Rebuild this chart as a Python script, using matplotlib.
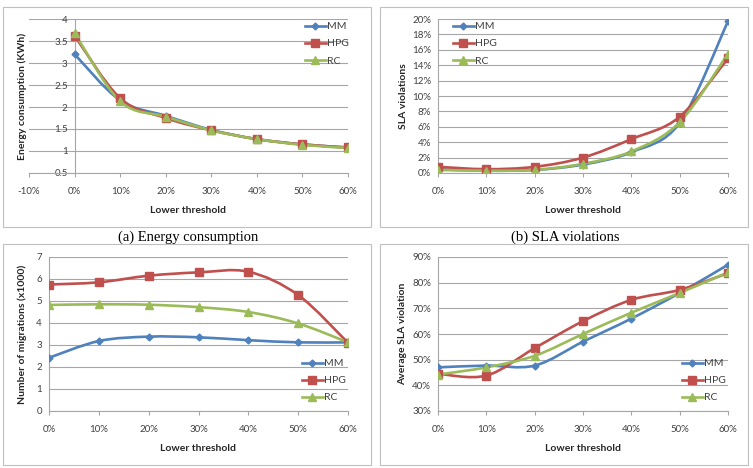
import matplotlib
matplotlib.use("Agg")
import matplotlib.pyplot as plt
from matplotlib.path import Path
from matplotlib.patches import PathPatch, Rectangle
from matplotlib.lines import Line2D

plt.rcParams['font.family'] = ['Lato', 'DejaVu Sans']

thresholds = [0, 10, 20, 30, 40, 50, 60]
series_names = ["MM", "HPG", "RC"]

# (a) energy consumption, KWh
energy_mm = [3.2, 2.15, 1.8, 1.48, 1.27, 1.15, 1.08]
energy_hpg = [3.62, 2.2, 1.75, 1.47, 1.27, 1.15, 1.08]
energy_rc = [3.68, 2.13, 1.78, 1.47, 1.27, 1.14, 1.07]

# (b) SLA violations, %
sla_mm = [0.5, 0.3, 0.4, 1.1, 2.7, 6.5, 19.7]
sla_hpg = [0.8, 0.5, 0.8, 2.0, 4.4, 7.3, 14.9]
sla_rc = [0.4, 0.3, 0.4, 1.2, 2.8, 6.6, 15.5]

# (c) number of migrations, x1000
migr_mm = [2.42, 3.18, 3.38, 3.35, 3.22, 3.12, 3.12]
migr_hpg = [5.75, 5.85, 6.15, 6.3, 6.33, 5.27, 3.1]
migr_rc = [4.82, 4.85, 4.83, 4.72, 4.5, 3.98, 3.12]

# (d) average SLA violation, %
avg_mm = [47, 47.7, 47.7, 57, 66, 76, 87]
avg_hpg = [44.5, 43.8, 54.5, 65, 73.3, 77.2, 83.7]
avg_rc = [44.2, 47, 51.5, 60, 68.3, 76, 84]

colors = {"MM": "#4F81BD", "HPG": "#C0504D", "RC": "#9BBB59"}
markers = {"MM": ("D", 3.5), "HPG": ("s", 6), "RC": ("^", 6)}

W, H = 753, 468
fig = plt.figure(figsize=(W / 100, H / 100), dpi=100)


def px_axes(x0, x1, y0, y1):
    return fig.add_axes([x0 / W, 1 - y1 / H, (x1 - x0) / W, (y1 - y0) / H])


def smooth_path(x, y):
    # Excel-style smoothed line: cubic Bezier through each point
    pts = list(zip(x, y))
    n = len(pts)
    verts = [pts[0]]
    codes = [Path.MOVETO]
    for i in range(n - 1):
        p0 = pts[i - 1] if i > 0 else pts[i]
        p1 = pts[i]
        p2 = pts[i + 1]
        p3 = pts[i + 2] if i + 2 < n else pts[i + 1]
        c1 = (p1[0] + (p2[0] - p0[0]) / 6, p1[1] + (p2[1] - p0[1]) / 6)
        c2 = (p2[0] - (p3[0] - p1[0]) / 6, p2[1] - (p3[1] - p1[1]) / 6)
        verts += [c1, c2, p2]
        codes += [Path.CURVE4] * 3
    return Path(verts, codes)


def draw_panel(ax, data, ylabel, yticks, ylabels, xlim, ylim, leg_xy):
    for name, vals in zip(series_names, data):
        ax.add_patch(PathPatch(smooth_path(thresholds, vals), fill=False,
                               edgecolor=colors[name], lw=1.9, zorder=3))
        m, s = markers[name]
        ax.plot(thresholds, vals, ls="none", marker=m, ms=s,
                color=colors[name], zorder=4)
    ax.set_xlim(*xlim)
    ax.set_ylim(*ylim)
    xt = list(range(xlim[0], xlim[1] + 1, 10))
    ax.set_xticks(xt)
    ax.set_xticklabels([f"{v}%" for v in xt])
    ax.set_yticks(yticks)
    ax.set_yticklabels(ylabels)
    ax.yaxis.grid(True, color="#A6A6A6", lw=0.8)
    ax.set_axisbelow(True)
    for s in ["top", "right"]:
        ax.spines[s].set_visible(False)
    for s in ["left", "bottom"]:
        ax.spines[s].set_color("#A6A6A6")
        ax.spines[s].set_linewidth(0.8)
    ax.tick_params(axis="x", length=3, color="#A6A6A6", labelsize=7,
                   labelcolor="#404040", pad=7)
    ax.tick_params(axis="y", length=0, labelsize=7, labelcolor="#404040", pad=5)
    ax.set_xlabel("Lower threshold", fontsize=7.5, fontweight="bold",
                  color="#262626", labelpad=7)
    ax.set_ylabel(ylabel, fontsize=7.5, fontweight="bold", color="#262626")
    handles = [Line2D([], [], color=colors[n], lw=1.9, marker=markers[n][0],
                      ms=markers[n][1]) for n in series_names]
    ax.legend(handles, series_names, loc="upper left",
              bbox_to_anchor=(leg_xy[0] / W, 1 - leg_xy[1] / H),
              bbox_transform=fig.transFigure, frameon=False, fontsize=7.5,
              handlelength=2.0, handletextpad=0.1, labelspacing=0.75,
              borderpad=0, borderaxespad=0, numpoints=1,
              labelcolor="#404040")


# panel boxes
for x0, x1, y0, y1 in [(3, 371, 7, 227), (380, 748, 7, 227),
                       (3, 371, 244, 465), (380, 748, 244, 465)]:
    fig.patches.append(Rectangle((x0 / W, 1 - y1 / H), (x1 - x0) / W,
                                 (y1 - y0) / H, transform=fig.transFigure,
                                 fill=False, edgecolor="#BFBFBF", lw=0.8))

# (a)
ax_a = px_axes(29, 348, 19, 173)
e_ticks = [0.5, 1, 1.5, 2, 2.5, 3, 3.5, 4]
draw_panel(ax_a, [energy_mm, energy_hpg, energy_rc],
           "Energy consumption (KWh)", e_ticks,
           [f"{v:g}" for v in e_ticks], (-10, 60), (0.5, 4), (305, 22))
ax_a.spines["left"].set_position(("data", 0))
ax_a.yaxis.set_label_coords(-0.006, 0.5)

# (b)
ax_b = px_axes(438, 728, 19, 173)
s_ticks = list(range(0, 21, 2))
draw_panel(ax_b, [sla_mm, sla_hpg, sla_rc], "SLA violations", s_ticks,
           [f"{v}%" for v in s_ticks], (0, 60), (0, 20), (453, 22))
ax_b.yaxis.set_label_coords(-0.103, 0.5)

# (c)
ax_c = px_axes(49, 348, 257, 411)
m_ticks = list(range(0, 8))
draw_panel(ax_c, [migr_mm, migr_hpg, migr_rc],
           "Number of migrations (x1000)", m_ticks,
           [str(v) for v in m_ticks], (0, 60), (0, 7), (302, 359))
ax_c.yaxis.set_label_coords(-0.074, 0.5)

# (d)
ax_d = px_axes(438, 728, 257, 411)
a_ticks = list(range(30, 91, 10))
draw_panel(ax_d, [avg_mm, avg_hpg, avg_rc], "Average SLA violation",
           a_ticks, [f"{v}%" for v in a_ticks], (0, 60), (30, 90),
           (682, 359))
ax_d.yaxis.set_label_coords(-0.107, 0.5)

fig.text(188 / W, 1 - 237 / H, "(a) Energy consumption", ha="center",
         va="center", fontsize=10.5, family="Liberation Serif")
fig.text(565 / W, 1 - 237 / H, "(b) SLA violations", ha="center",
         va="center", fontsize=10.5, family="Liberation Serif")

fig.savefig("out.png", dpi=100)
